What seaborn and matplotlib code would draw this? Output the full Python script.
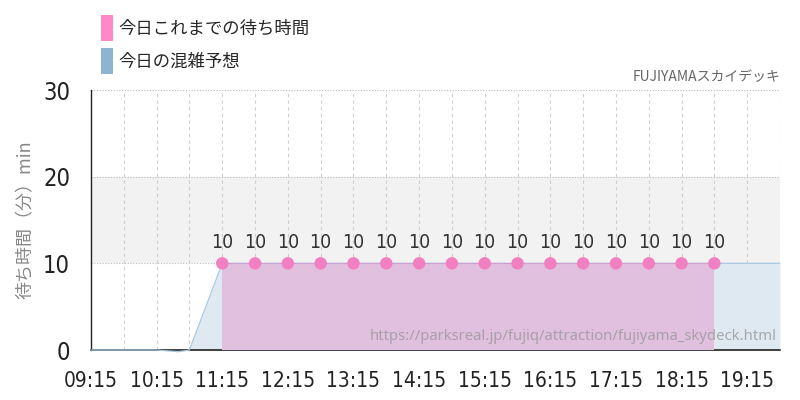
import matplotlib
matplotlib.use("Agg")
import pandas as pd
import seaborn as sns
import matplotlib.pyplot as plt
from matplotlib.patches import Patch

# chart data
pred_times = ["09:15", "09:45", "10:15", "10:35", "10:45", "11:15", "11:45", "12:15", "12:45",
              "13:15", "13:45", "14:15", "14:45", "15:15", "15:45", "16:15", "16:45",
              "17:15", "17:45", "18:15", "18:45", "19:15", "19:45"]
pred_waits = [0, 0, 0, -0.2, 0, 10, 10, 10, 10,
              10, 10, 10, 10, 10, 10, 10, 10,
              10, 10, 10, 10, 10, 10]

today_times = ["11:15", "11:45", "12:15", "12:45", "13:15", "13:45", "14:15", "14:45",
               "15:15", "15:45", "16:15", "16:45", "17:15", "17:45", "18:15", "18:45"]
today_waits = [10, 10, 10, 10, 10, 10, 10, 10,
               10, 10, 10, 10, 10, 10, 10, 10]

tick_labels = ["09:15", "10:15", "11:15", "12:15", "13:15", "14:15",
               "15:15", "16:15", "17:15", "18:15", "19:15"]

legend_labels = ["今日これまでの待ち時間", "今日の混雑予想"]
title_text = "FUJIYAMAスカイデッキ"
ylabel_text = "待ち時間（分）min"
url_text = "https://parksreal.jp/fujiq/attraction/fujiyama_skydeck.html"


def to_min(t):
    h, m = t.split(":")
    return int(h) * 60 + int(m)


pred = pd.DataFrame({"t": [to_min(t) for t in pred_times], "wait": pred_waits})
today = pd.DataFrame({"t": [to_min(t) for t in today_times], "wait": today_waits})

sns.set_theme(style="white")
plt.rcParams["font.family"] = ["Noto Sans CJK JP", "DejaVu Sans"]
narrow = ["DejaVu Sans"]

fig = plt.figure(figsize=(8, 4), dpi=100)
ax = fig.add_axes([0.11375, 0.125, 0.86125, 0.65])

x0, x1 = to_min("09:15"), to_min("19:45")
ax.set_xlim(x0, x1)
ax.set_ylim(0, 30)

# background band + grids
ax.axhspan(10, 20, color="#f2f2f2", zorder=0, lw=0)
for v in [10, 20, 30]:
    ax.axhline(v, color="#bbbbbb", lw=0.8, ls=(0, (1, 1.5)), zorder=0.5)
for m in range(x0 + 30, x1 + 1, 30):
    ax.axvline(m, color="#cfcfcf", lw=0.8, ls=(0, (3, 3)), zorder=0.5)

# forecast area
ax.fill_between(pred["t"], pred["wait"], color="#dfe9f2", lw=0, zorder=1)
sns.lineplot(data=pred, x="t", y="wait", ax=ax, color="#a9c8e3", lw=0.9, zorder=2.6,
             clip_on=False)

# today's waits
ax.fill_between(today["t"], today["wait"], color="#e1bfdf", lw=0, zorder=3)
sns.lineplot(data=today, x="t", y="wait", ax=ax, color="#cf9fcd", lw=0.8, zorder=4)
sns.scatterplot(data=today, x="t", y="wait", ax=ax, color="#f27fc2", s=80,
                edgecolor="none", zorder=5)
for t, w in zip(today["t"], today["wait"]):
    ax.text(t, w + 1.3, str(w), ha="center", va="bottom", fontsize=14,
            color="#333333", family=narrow, stretch="condensed", zorder=6)

# axes styling
for s in ["top", "right"]:
    ax.spines[s].set_visible(False)
ax.spines["left"].set_color("#222222")
ax.spines["bottom"].set_color("#222222")
ax.spines["left"].set_linewidth(1)
ax.spines["bottom"].set_linewidth(1.2)

ax.set_xticks([to_min(t) for t in tick_labels])
ax.set_xticklabels(tick_labels, family=narrow, stretch="condensed", fontsize=15, color="#222222")
ax.set_yticks([0, 10, 20, 30])
ax.set_yticklabels(["0", "10", "20", "30"], family=narrow, stretch="condensed",
                   fontsize=17, color="#222222")
ax.tick_params(axis="both", length=12, color="#bbbbbb", width=0.8, pad=3)
ax.set_xlabel("")
ax.set_ylabel(ylabel_text, fontsize=13, color="#888888", labelpad=6)

# watermark + title
ax.text(0.995, 0.05, url_text, transform=ax.transAxes, ha="right", va="center",
        fontsize=10.7, color="#999999", alpha=0.8, family=["Noto Sans", "DejaVu Sans"], zorder=7)
fig.text(0.975, 0.79, title_text, ha="right", va="bottom", fontsize=10, color="#666666")

# legend
handles = [Patch(facecolor="#ff88c8", edgecolor="none"),
           Patch(facecolor="#8fb3d3", edgecolor="none")]
fig.legend(handles, legend_labels, loc="upper left", bbox_to_anchor=(0.117, 0.98),
           frameon=False, fontsize=12.5, handlelength=0.7, handleheight=1.9,
           handletextpad=0.3, labelspacing=0.45, borderaxespad=0)

fig.savefig("out.png", dpi=100)
